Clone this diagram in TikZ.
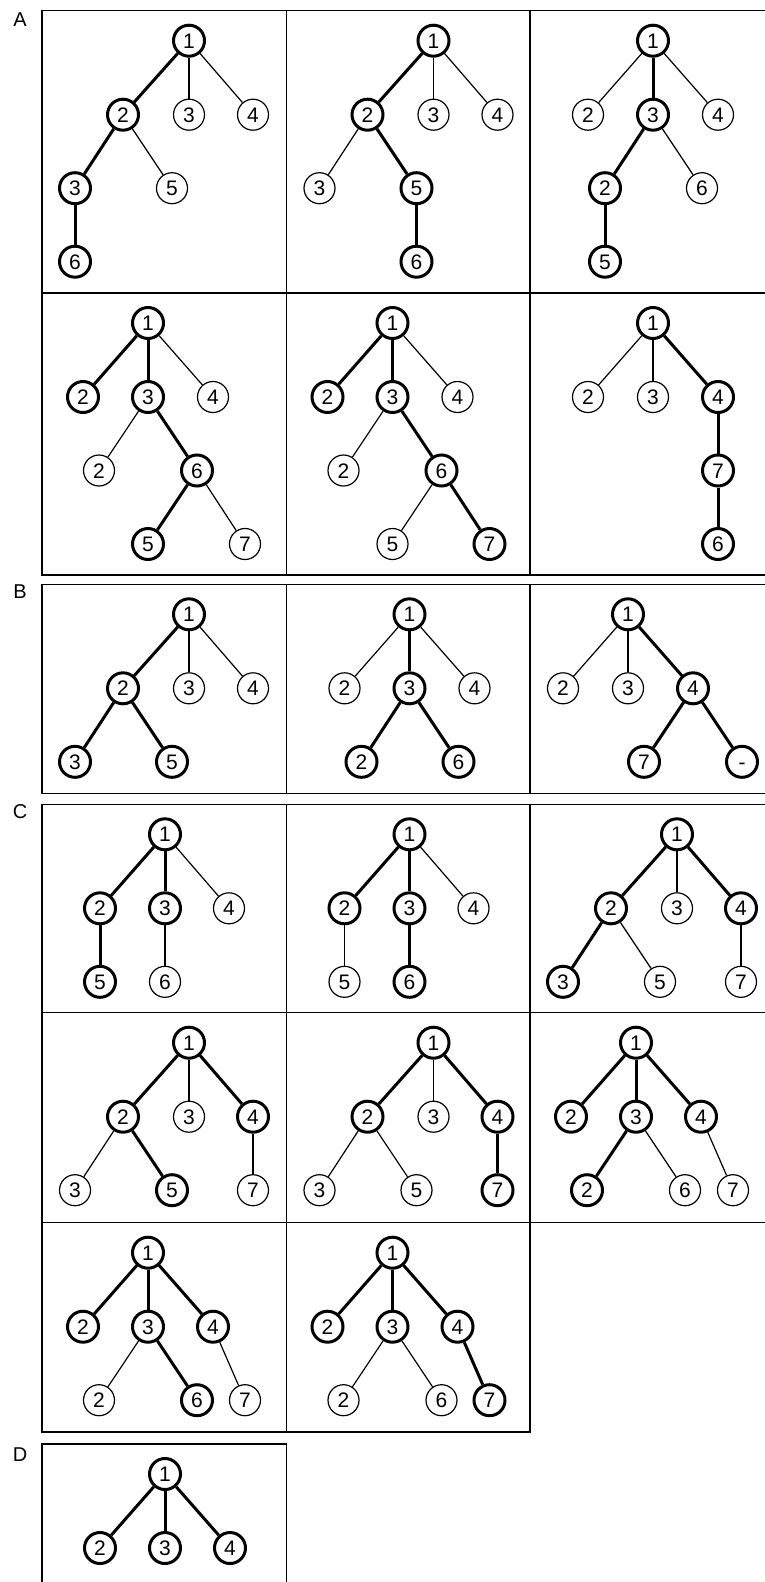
\documentclass[tikz,border=0pt]{standalone}
\usepackage{fontspec}
\setmainfont{Liberation Sans}
\begin{document}
\begin{tikzpicture}[x=1pt,y=-1pt,
  vtx/.style={circle,draw,line width=1.2pt,minimum size=31pt,inner sep=0pt,
    text height=15pt,text depth=0pt,font=\fontsize{21}{21}\selectfont},
  vtxb/.style={vtx,line width=3pt},
  ed/.style={line width=1.2pt},
  edb/.style={line width=3pt},
  panel/.style={line width=1.5pt},
  lbl/.style={font=\fontsize{20}{20}\selectfont}]
  \useasboundingbox (0,0) rectangle (765,1582);
  % part labels
  \node[lbl] (labA) at (20,20) {A};
  \node[lbl] (labB) at (20,592) {B};
  \node[lbl] (labC) at (20,812) {C};
  \node[lbl] (labD) at (20,1455) {D};

  % ---- A, top row
  \begin{scope}[shift={(42,10.7)}]
    \draw[panel] (0,0) rectangle (244.5,282.3);
    \node[vtxb] (a1-1) at (147,30) {1};
    \node[vtxb] (a1-2) at (81,104) {2};
    \node[vtx]  (a1-3) at (147,104) {3};
    \node[vtx]  (a1-4) at (211,104) {4};
    \node[vtxb] (a1-3b) at (33,177.5) {3};
    \node[vtx]  (a1-5) at (130,177.5) {5};
    \node[vtxb] (a1-6) at (33,251) {6};
    \draw[edb] (a1-1) -- (a1-2);
    \draw[ed]  (a1-1) -- (a1-3);
    \draw[ed]  (a1-1) -- (a1-4);
    \draw[edb] (a1-2) -- (a1-3b);
    \draw[ed]  (a1-2) -- (a1-5);
    \draw[edb] (a1-3b) -- (a1-6);
  \end{scope}
  \begin{scope}[shift={(286.5,10.7)}]
    \draw[panel] (0,0) rectangle (243.5,282.3);
    \node[vtxb] (a2-1) at (147,30) {1};
    \node[vtxb] (a2-2) at (81,104) {2};
    \node[vtx]  (a2-3) at (147,104) {3};
    \node[vtx]  (a2-4) at (211,104) {4};
    \node[vtx]  (a2-3b) at (33,177.5) {3};
    \node[vtxb] (a2-5) at (130,177.5) {5};
    \node[vtxb] (a2-6) at (130,251) {6};
    \draw[edb] (a2-1) -- (a2-2);
    \draw[ed]  (a2-1) -- (a2-3);
    \draw[ed]  (a2-1) -- (a2-4);
    \draw[ed]  (a2-2) -- (a2-3b);
    \draw[edb] (a2-2) -- (a2-5);
    \draw[edb] (a2-5) -- (a2-6);
  \end{scope}
  \begin{scope}[shift={(530,10.7)}]
    \draw[panel] (0,0) rectangle (245,282.3);
    \node[vtxb] (a3-1) at (123,30) {1};
    \node[vtx]  (a3-2) at (58,104) {2};
    \node[vtxb] (a3-3) at (123,104) {3};
    \node[vtx]  (a3-4) at (188,104) {4};
    \node[vtxb] (a3-2b) at (75,177.5) {2};
    \node[vtx]  (a3-6) at (172,177.5) {6};
    \node[vtxb] (a3-5) at (75,251) {5};
    \draw[ed]  (a3-1) -- (a3-2);
    \draw[edb] (a3-1) -- (a3-3);
    \draw[ed]  (a3-1) -- (a3-4);
    \draw[edb] (a3-3) -- (a3-2b);
    \draw[ed]  (a3-3) -- (a3-6);
    \draw[edb] (a3-2b) -- (a3-5);
  \end{scope}

  % ---- A, second row
  \begin{scope}[shift={(42,293)}]
    \draw[panel] (0,0) rectangle (244.5,282);
    \node[vtxb] (a4-1) at (106,30) {1};
    \node[vtxb] (a4-2) at (41,104) {2};
    \node[vtxb] (a4-3) at (106,104) {3};
    \node[vtx]  (a4-4) at (171,104) {4};
    \node[vtx]  (a4-2b) at (57,177.5) {2};
    \node[vtxb] (a4-6) at (155,177.5) {6};
    \node[vtxb] (a4-5) at (106,251) {5};
    \node[vtx]  (a4-7) at (203,251) {7};
    \draw[edb] (a4-1) -- (a4-2);
    \draw[edb] (a4-1) -- (a4-3);
    \draw[ed]  (a4-1) -- (a4-4);
    \draw[ed]  (a4-3) -- (a4-2b);
    \draw[edb] (a4-3) -- (a4-6);
    \draw[edb] (a4-6) -- (a4-5);
    \draw[ed]  (a4-6) -- (a4-7);
  \end{scope}
  \begin{scope}[shift={(286.5,293)}]
    \draw[panel] (0,0) rectangle (243.5,282);
    \node[vtxb] (a5-1) at (106,30) {1};
    \node[vtxb] (a5-2) at (41,104) {2};
    \node[vtxb] (a5-3) at (106,104) {3};
    \node[vtx]  (a5-4) at (171,104) {4};
    \node[vtx]  (a5-2b) at (57,177.5) {2};
    \node[vtxb] (a5-6) at (155,177.5) {6};
    \node[vtx]  (a5-5) at (106,251) {5};
    \node[vtxb] (a5-7) at (203,251) {7};
    \draw[edb] (a5-1) -- (a5-2);
    \draw[edb] (a5-1) -- (a5-3);
    \draw[ed]  (a5-1) -- (a5-4);
    \draw[ed]  (a5-3) -- (a5-2b);
    \draw[edb] (a5-3) -- (a5-6);
    \draw[ed]  (a5-6) -- (a5-5);
    \draw[edb] (a5-6) -- (a5-7);
  \end{scope}
  \begin{scope}[shift={(530,293)}]
    \draw[panel] (0,0) rectangle (245,282);
    \node[vtxb] (a6-1) at (123,30) {1};
    \node[vtx]  (a6-2) at (58,104) {2};
    \node[vtx]  (a6-3) at (123,104) {3};
    \node[vtxb] (a6-4) at (188,104) {4};
    \node[vtxb] (a6-7) at (188,177.5) {7};
    \node[vtxb] (a6-6) at (188,251) {6};
    \draw[ed]  (a6-1) -- (a6-2);
    \draw[ed]  (a6-1) -- (a6-3);
    \draw[edb] (a6-1) -- (a6-4);
    \draw[edb] (a6-4) -- (a6-7);
    \draw[edb] (a6-7) -- (a6-6);
  \end{scope}

  % ---- B
  \begin{scope}[shift={(42,584.3)}]
    \draw[panel] (0,0) rectangle (244.5,209);
    \node[vtxb] (b1-1) at (147,30) {1};
    \node[vtxb] (b1-2) at (81,104) {2};
    \node[vtx]  (b1-3) at (147,104) {3};
    \node[vtx]  (b1-4) at (211,104) {4};
    \node[vtxb] (b1-3b) at (33,177.5) {3};
    \node[vtxb] (b1-5) at (130,177.5) {5};
    \draw[edb] (b1-1) -- (b1-2);
    \draw[ed]  (b1-1) -- (b1-3);
    \draw[ed]  (b1-1) -- (b1-4);
    \draw[edb] (b1-2) -- (b1-3b);
    \draw[edb] (b1-2) -- (b1-5);
  \end{scope}
  \begin{scope}[shift={(286.5,584.3)}]
    \draw[panel] (0,0) rectangle (243.5,209);
    \node[vtxb] (b2-1) at (123,30) {1};
    \node[vtx]  (b2-2) at (58,104) {2};
    \node[vtxb] (b2-3) at (123,104) {3};
    \node[vtx]  (b2-4) at (188,104) {4};
    \node[vtxb] (b2-2b) at (75,177.5) {2};
    \node[vtxb] (b2-6) at (172,177.5) {6};
    \draw[ed]  (b2-1) -- (b2-2);
    \draw[edb] (b2-1) -- (b2-3);
    \draw[ed]  (b2-1) -- (b2-4);
    \draw[edb] (b2-3) -- (b2-2b);
    \draw[edb] (b2-3) -- (b2-6);
  \end{scope}
  \begin{scope}[shift={(530,584.3)}]
    \draw[panel] (0,0) rectangle (245,209);
    \node[vtxb] (b3-1) at (98,30) {1};
    \node[vtx]  (b3-2) at (33,104) {2};
    \node[vtx]  (b3-3) at (98,104) {3};
    \node[vtxb] (b3-4) at (163,104) {4};
    \node[vtxb] (b3-7) at (114,177.5) {7};
    \node[vtxb] (b3-x) at (212,177.5) {-};
    \draw[ed]  (b3-1) -- (b3-2);
    \draw[ed]  (b3-1) -- (b3-3);
    \draw[edb] (b3-1) -- (b3-4);
    \draw[edb] (b3-4) -- (b3-7);
    \draw[edb] (b3-4) -- (b3-x);
  \end{scope}

  % ---- C, first row
  \begin{scope}[shift={(42,804.3)}]
    \draw[panel] (0,0) rectangle (244.5,208.4);
    \node[vtxb] (c1-1) at (123,30) {1};
    \node[vtxb] (c1-2) at (58,104) {2};
    \node[vtxb] (c1-3) at (123,104) {3};
    \node[vtx]  (c1-4) at (187,104) {4};
    \node[vtxb] (c1-5) at (58,177.5) {5};
    \node[vtx]  (c1-6) at (123,177.5) {6};
    \draw[edb] (c1-1) -- (c1-2);
    \draw[edb] (c1-1) -- (c1-3);
    \draw[ed]  (c1-1) -- (c1-4);
    \draw[edb] (c1-2) -- (c1-5);
    \draw[ed]  (c1-3) -- (c1-6);
  \end{scope}
  \begin{scope}[shift={(286.5,804.3)}]
    \draw[panel] (0,0) rectangle (243.5,208.4);
    \node[vtxb] (c2-1) at (123,30) {1};
    \node[vtxb] (c2-2) at (58,104) {2};
    \node[vtxb] (c2-3) at (123,104) {3};
    \node[vtx]  (c2-4) at (187,104) {4};
    \node[vtx]  (c2-5) at (58,177.5) {5};
    \node[vtxb] (c2-6) at (123,177.5) {6};
    \draw[edb] (c2-1) -- (c2-2);
    \draw[edb] (c2-1) -- (c2-3);
    \draw[ed]  (c2-1) -- (c2-4);
    \draw[ed]  (c2-2) -- (c2-5);
    \draw[edb] (c2-3) -- (c2-6);
  \end{scope}
  \begin{scope}[shift={(530,804.3)}]
    \draw[panel] (0,0) rectangle (245,208.4);
    \node[vtxb] (c3-1) at (147,30) {1};
    \node[vtxb] (c3-2) at (81,104) {2};
    \node[vtx]  (c3-3) at (147,104) {3};
    \node[vtxb] (c3-4) at (211,104) {4};
    \node[vtxb] (c3-3b) at (33,177.5) {3};
    \node[vtx]  (c3-5) at (130,177.5) {5};
    \node[vtx]  (c3-7) at (211,177.5) {7};
    \draw[edb] (c3-1) -- (c3-2);
    \draw[ed]  (c3-1) -- (c3-3);
    \draw[edb] (c3-1) -- (c3-4);
    \draw[edb] (c3-2) -- (c3-3b);
    \draw[ed]  (c3-2) -- (c3-5);
    \draw[ed]  (c3-4) -- (c3-7);
  \end{scope}

  % ---- C, second row
  \begin{scope}[shift={(42,1012.7)}]
    \draw[panel] (0,0) rectangle (244.5,210);
    \node[vtxb] (c4-1) at (147,30) {1};
    \node[vtxb] (c4-2) at (81,104) {2};
    \node[vtx]  (c4-3) at (147,104) {3};
    \node[vtxb] (c4-4) at (211,104) {4};
    \node[vtx]  (c4-3b) at (33,177.5) {3};
    \node[vtxb] (c4-5) at (130,177.5) {5};
    \node[vtx]  (c4-7) at (211,177.5) {7};
    \draw[edb] (c4-1) -- (c4-2);
    \draw[ed]  (c4-1) -- (c4-3);
    \draw[edb] (c4-1) -- (c4-4);
    \draw[ed]  (c4-2) -- (c4-3b);
    \draw[edb] (c4-2) -- (c4-5);
    \draw[ed]  (c4-4) -- (c4-7);
  \end{scope}
  \begin{scope}[shift={(286.5,1012.7)}]
    \draw[panel] (0,0) rectangle (243.5,210);
    \node[vtxb] (c5-1) at (147,30) {1};
    \node[vtxb] (c5-2) at (81,104) {2};
    \node[vtx]  (c5-3) at (147,104) {3};
    \node[vtxb] (c5-4) at (211,104) {4};
    \node[vtx]  (c5-3b) at (33,177.5) {3};
    \node[vtx]  (c5-5) at (130,177.5) {5};
    \node[vtxb] (c5-7) at (211,177.5) {7};
    \draw[edb] (c5-1) -- (c5-2);
    \draw[ed]  (c5-1) -- (c5-3);
    \draw[edb] (c5-1) -- (c5-4);
    \draw[ed]  (c5-2) -- (c5-3b);
    \draw[ed]  (c5-2) -- (c5-5);
    \draw[edb] (c5-4) -- (c5-7);
  \end{scope}
  \begin{scope}[shift={(530,1012.7)}]
    \draw[panel] (0,0) rectangle (245,210);
    \node[vtxb] (c6-1) at (106,30) {1};
    \node[vtxb] (c6-2) at (41,104) {2};
    \node[vtxb] (c6-3) at (106,104) {3};
    \node[vtxb] (c6-4) at (171,104) {4};
    \node[vtxb] (c6-2b) at (57,177.5) {2};
    \node[vtx]  (c6-6) at (155,177.5) {6};
    \node[vtx]  (c6-7) at (203,177.5) {7};
    \draw[edb] (c6-1) -- (c6-2);
    \draw[edb] (c6-1) -- (c6-3);
    \draw[edb] (c6-1) -- (c6-4);
    \draw[edb] (c6-3) -- (c6-2b);
    \draw[ed]  (c6-3) -- (c6-6);
    \draw[ed]  (c6-4) -- (c6-7);
  \end{scope}

  % ---- C, third row
  \begin{scope}[shift={(42,1222.7)}]
    \draw[panel] (0,0) rectangle (244.5,209.3);
    \node[vtxb] (c7-1) at (106,30) {1};
    \node[vtxb] (c7-2) at (41,104) {2};
    \node[vtxb] (c7-3) at (106,104) {3};
    \node[vtxb] (c7-4) at (171,104) {4};
    \node[vtx]  (c7-2b) at (57,177.5) {2};
    \node[vtxb] (c7-6) at (155,177.5) {6};
    \node[vtx]  (c7-7) at (203,177.5) {7};
    \draw[edb] (c7-1) -- (c7-2);
    \draw[edb] (c7-1) -- (c7-3);
    \draw[edb] (c7-1) -- (c7-4);
    \draw[ed]  (c7-3) -- (c7-2b);
    \draw[edb] (c7-3) -- (c7-6);
    \draw[ed]  (c7-4) -- (c7-7);
  \end{scope}
  \begin{scope}[shift={(286.5,1222.7)}]
    \draw[panel] (0,0) rectangle (243.5,209.3);
    \node[vtxb] (c8-1) at (106,30) {1};
    \node[vtxb] (c8-2) at (41,104) {2};
    \node[vtxb] (c8-3) at (106,104) {3};
    \node[vtxb] (c8-4) at (171,104) {4};
    \node[vtx]  (c8-2b) at (57,177.5) {2};
    \node[vtx]  (c8-6) at (155,177.5) {6};
    \node[vtxb] (c8-7) at (203,177.5) {7};
    \draw[edb] (c8-1) -- (c8-2);
    \draw[edb] (c8-1) -- (c8-3);
    \draw[edb] (c8-1) -- (c8-4);
    \draw[ed]  (c8-3) -- (c8-2b);
    \draw[ed]  (c8-3) -- (c8-6);
    \draw[edb] (c8-4) -- (c8-7);
  \end{scope}

  % ---- D
  \begin{scope}[shift={(42,1444)}]
    \draw[panel] (0,0) rectangle (244.5,150);
    \node[vtxb] (d-1) at (123,30) {1};
    \node[vtxb] (d-2) at (58,104) {2};
    \node[vtxb] (d-3) at (123,104) {3};
    \node[vtxb] (d-4) at (188,104) {4};
    \draw[edb] (d-1) -- (d-2);
    \draw[edb] (d-1) -- (d-3);
    \draw[edb] (d-1) -- (d-4);
  \end{scope}
\end{tikzpicture}
\end{document}
